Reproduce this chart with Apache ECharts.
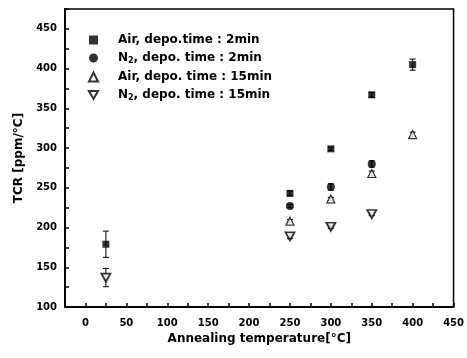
<!DOCTYPE html>
<html>
<head>
<meta charset="utf-8">
<script src="https://cdn.jsdelivr.net/npm/echarts@6/dist/echarts.min.js"></script>
<style>
  html, body { margin: 0; padding: 0; background: #fff; }
  #chart { width: 467px; height: 358px; }
</style>
</head>
<body>
<div id="chart"></div>
<script>
// annealing temperatures (°C)
const temps = [25, 250, 300, 350, 400];

// TCR values (ppm/°C), null = no point
const air2min = [179, 243, 299, 367, 405];
const air2minErr = [16.5, 3, 2, 3, 7];
const n2_2min = [null, 227, 251, 280, null];
const n2_2minErr = [0, 2, 4, 4, 0];
const air15min = [null, 208, 236, 268, 317];
const air15minErr = [0, 2, 2, 3, 3];
const n2_15min = [137, 189, 201, 217, null];
const n2_15minErr = [11.5, 3, 2, 2, 0];

const seriesNames = [
  'Air, depo.time : 2min',
  'N2, depo. time : 2min',
  'Air, depo. time : 15min',
  'N2, depo. time : 15min'
];

const font = 'DejaVu Sans, Verdana, sans-serif';

const toPoints = (vals) => temps.map((t, i) => [t, vals[i]]).filter(p => p[1] != null);
const toErr = (vals, errs) => temps
  .map((t, i) => [t, vals[i] - errs[i], vals[i] + errs[i]])
  .filter((p, i) => vals[i] != null && errs[i] > 0);

const errorBar = (data) => ({
  type: 'custom',
  data: data,
  z: 1,
  encode: { x: 0, y: [1, 2] },
  renderItem: (params, api) => {
    const lo = api.coord([api.value(0), api.value(1)]);
    const hi = api.coord([api.value(0), api.value(2)]);
    const w = 3;
    const style = { stroke: '#000', lineWidth: 1 };
    return {
      type: 'group',
      children: [
        { type: 'line', shape: { x1: lo[0], y1: lo[1], x2: hi[0], y2: hi[1] }, style },
        { type: 'line', shape: { x1: lo[0] - w, y1: lo[1], x2: lo[0] + w, y2: lo[1] }, style },
        { type: 'line', shape: { x1: hi[0] - w, y1: hi[1], x2: hi[0] + w, y2: hi[1] }, style }
      ]
    };
  }
});

const triDown = 'path://M0,0L10,0L5,8.66Z';

const chart = echarts.init(document.getElementById('chart'));
const option = {
  animation: false,
  backgroundColor: '#fff',
  grid: {
    left: 65, right: 11, top: 9, bottom: 51,
    show: true, borderColor: '#000', borderWidth: 1.5
  },
  legend: {
    left: 83, top: 29, orient: 'vertical',
    itemWidth: 9, itemHeight: 9, itemGap: 6,
    data: seriesNames,
    textStyle: {
      fontFamily: font, fontSize: 12, fontWeight: 'bold', color: '#000', padding: [0, 0, 0, 15],
      rich: {
        t: { fontFamily: font, fontSize: 12, fontWeight: 'bold', color: '#000' },
        s: { fontFamily: font, fontSize: 8, fontWeight: 'bold', color: '#000', verticalAlign: 'bottom', padding: [6, 0, 0, 0] }
      }
    },
    formatter: (name) => name.startsWith('N2')
      ? '{t|N}{s|2}{t|' + name.slice(2) + '}'
      : '{t|' + name + '}'
  },
  xAxis: {
    type: 'value', min: -25, max: 450, interval: 25,
    name: 'Annealing temperature[°C]', nameLocation: 'middle', nameGap: 24,
    nameTextStyle: { fontFamily: font, fontSize: 12, fontWeight: 'bold', color: '#000' },
    axisLine: { onZero: false, lineStyle: { color: '#000', width: 2 } },
    axisTick: { inside: true, length: 4, lineStyle: { color: '#000', width: 1.5 } },
    axisLabel: {
      fontFamily: font, fontSize: 10, fontWeight: 'bold', color: '#000', margin: 11,
      formatter: (v) => (v >= 0 && v % 50 === 0) ? String(v) : ''
    },
    splitLine: { show: false }
  },
  yAxis: {
    type: 'value', min: 100, max: 475, interval: 25,
    name: 'TCR [ppm/°C]', nameLocation: 'middle', nameGap: 33,
    nameTextStyle: { fontFamily: font, fontSize: 12, fontWeight: 'bold', color: '#000' },
    axisLine: { onZero: false, lineStyle: { color: '#000', width: 2 } },
    axisTick: { inside: true, length: 4, lineStyle: { color: '#000', width: 1.5 } },
    axisLabel: {
      fontFamily: font, fontSize: 10, fontWeight: 'bold', color: '#000', margin: 8,
      formatter: (v) => (v <= 450 && v % 50 === 0) ? String(v) : ''
    },
    splitLine: { show: false }
  },
  series: [
    errorBar(toErr(air2min, air2minErr)),
    errorBar(toErr(n2_2min, n2_2minErr)),
    errorBar(toErr(air15min, air15minErr)),
    errorBar(toErr(n2_15min, n2_15minErr)),
    {
      name: seriesNames[0], type: 'scatter', data: toPoints(air2min), z: 3,
      symbol: 'rect', symbolSize: 7,
      itemStyle: { color: '#000' }
    },
    {
      name: seriesNames[1], type: 'scatter', data: toPoints(n2_2min), z: 3,
      symbol: 'circle', symbolSize: 8,
      itemStyle: { color: '#000' }
    },
    {
      name: seriesNames[2], type: 'scatter', data: toPoints(air15min), z: 3,
      symbol: 'triangle', symbolSize: 8,
      itemStyle: { color: '#fff', borderColor: '#000', borderWidth: 1.2 }
    },
    {
      name: seriesNames[3], type: 'scatter', data: toPoints(n2_15min), z: 3,
      symbol: triDown, symbolSize: [9, 8],
      itemStyle: { color: '#fff', borderColor: '#000', borderWidth: 1.8 }
    }
  ]
};
chart.setOption(option);
</script>
</body>
</html>
